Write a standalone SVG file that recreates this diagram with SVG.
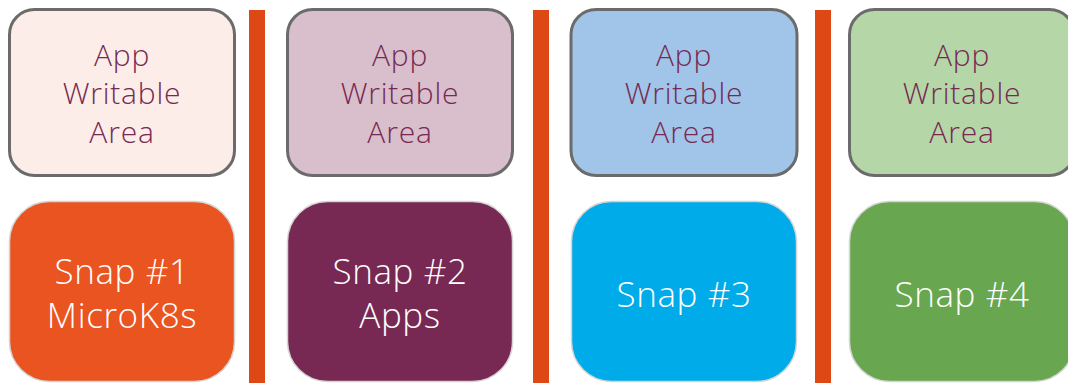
<svg xmlns="http://www.w3.org/2000/svg" width="1068" height="383" viewBox="0 0 1068 383">
  <style>
    .area { stroke: #6b6b6b; stroke-width: 3; }
    .snap { stroke: #d4d4d4; stroke-width: 1.5; }
    .bar { fill: #dd4814; }
    .t-area { font-family: "Open Sans", "Noto Sans", "Liberation Sans", sans-serif; font-weight: 300; font-size: 30px; letter-spacing: 0.8px; fill: #772953; text-anchor: middle; }
    .t-snap { font-family: "Open Sans", "Noto Sans", "Liberation Sans", sans-serif; font-weight: 300; font-size: 35px; letter-spacing: 0.6px; fill: #ffffff; text-anchor: middle; }
  </style>
  <rect width="1068" height="383" fill="#ffffff"/>

  <!-- separators between the snap columns -->
  <g id="separators">
    <rect class="bar" x="249" y="10" width="16" height="373"/>
    <rect class="bar" x="533" y="10" width="16" height="373"/>
    <rect class="bar" x="815" y="10" width="16" height="373"/>
  </g>

  <!-- column 1 -->
  <g id="area1">
    <rect class="area" x="9.5" y="9.5" width="225" height="166" rx="25" fill="#fcede8"/>
    <text class="t-area" x="122" y="65.5">App</text>
    <text class="t-area" x="122" y="104">Writable</text>
    <text class="t-area" x="122" y="142.5">Area</text>
  </g>
  <g id="snap1">
    <rect class="snap" x="9.5" y="201.5" width="225" height="180" rx="40" fill="#e95420"/>
    <text class="t-snap" x="122" y="284">Snap #1</text>
    <text class="t-snap" x="122" y="328">MicroK8s</text>
  </g>

  <!-- column 2 -->
  <g id="area2">
    <rect class="area" x="287.5" y="9.5" width="225" height="166" rx="25" fill="#d8bfcb"/>
    <text class="t-area" x="400" y="65.5">App</text>
    <text class="t-area" x="400" y="104">Writable</text>
    <text class="t-area" x="400" y="142.5">Area</text>
  </g>
  <g id="snap2">
    <rect class="snap" x="287.5" y="201.5" width="225" height="180" rx="40" fill="#772953"/>
    <text class="t-snap" x="400" y="284">Snap #2</text>
    <text class="t-snap" x="400" y="328">Apps</text>
  </g>

  <!-- column 3 -->
  <g id="area3">
    <rect class="area" x="571" y="9.5" width="226" height="166" rx="25" fill="#a0c5e8"/>
    <text class="t-area" x="684" y="65.5">App</text>
    <text class="t-area" x="684" y="104">Writable</text>
    <text class="t-area" x="684" y="142.5">Area</text>
  </g>
  <g id="snap3">
    <rect class="snap" x="571.5" y="201.5" width="225" height="180" rx="40" fill="#00abe9"/>
    <text class="t-snap" x="684" y="307">Snap #3</text>
  </g>

  <!-- column 4 -->
  <g id="area4">
    <rect class="area" x="849.5" y="9.5" width="225" height="166" rx="25" fill="#b5d7a8"/>
    <text class="t-area" x="962" y="65.5">App</text>
    <text class="t-area" x="962" y="104">Writable</text>
    <text class="t-area" x="962" y="142.5">Area</text>
  </g>
  <g id="snap4">
    <rect class="snap" x="849.5" y="201.5" width="225" height="180" rx="40" fill="#68a74f"/>
    <text class="t-snap" x="962" y="307">Snap #4</text>
  </g>

  <!-- no connectors in this layout -->
  <g id="connectors"/>
</svg>
